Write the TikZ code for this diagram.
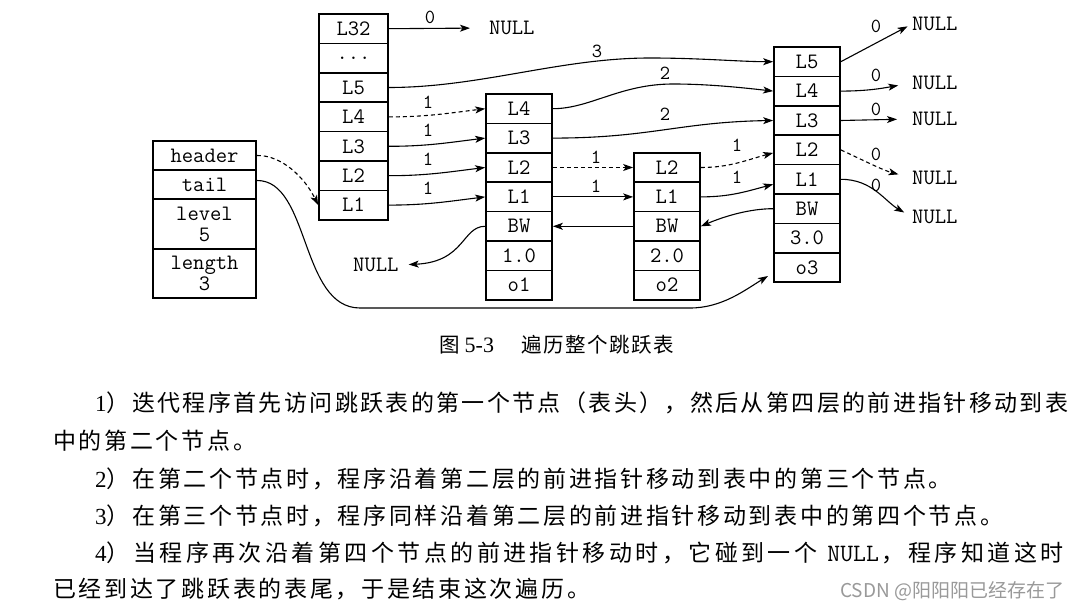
\documentclass[tikz,border=0pt]{standalone}
\usepackage{fontspec}
\setmainfont{Liberation Serif}
\newfontfamily\cjk{Noto Sans CJK SC}[LetterSpace=11.7]
\newfontfamily\cjka{Noto Sans CJK SC}[LetterSpace=10.3]
\newfontfamily\cjkb{Noto Sans CJK SC}[LetterSpace=15]
\newfontfamily\cjkcap{Noto Sans CJK SC}[LetterSpace=8]
\newfontfamily\wmfont{Noto Sans CJK SC}
\usetikzlibrary{arrows.meta}
\newcommand\dfont{\ttfamily\fontsize{22}{21}\selectfont}
\newcommand\tdig{\rmfamily\fontsize{23}{23}\selectfont}
\tikzset{
  cell/.style={draw, line width=1.7pt, inner sep=0pt, minimum height=29.4pt, font=\dfont},
  hcol/.style={cell, minimum width=103pt},
  col0/.style={cell, minimum width=69pt},
  coln/.style={cell, minimum width=66pt},
  conn/.style={line width=1.1pt, -{Stealth[length=10pt,width=7pt,inset=2.5pt]}},
  dsh/.style={dash pattern=on 4pt off 3pt},
  lbl/.style={inner sep=0pt, font=\ttfamily\fontsize{20}{20}\selectfont},
  nul/.style={inner sep=0pt, font=\dfont},
  txt/.style={inner sep=0pt, anchor=base west, font=\cjk\fontsize{23}{23}\selectfont},
}
\begin{document}
\begin{tikzpicture}[x=1pt,y=-1pt]
\path[fill=white] (0,0) rectangle (1083,609);
\useasboundingbox (0,0) rectangle (1083,609);

% header struct
\node[hcol] (hd) at (204.5,155.5) {header};
\node[hcol] (tl) at (204.5,184.5) {tail};
\node[hcol,minimum height=50pt,align=center] (lv) at (204.5,224) {level\\5};
\node[hcol,minimum height=49pt,align=center] (lg) at (204.5,273.5) {length\\3};

% header node
\node[col0] (a32) at (353.5,28.7) {L32};
\node[col0] (adt) at (353.5,58.1) {...};
\node[col0] (a5) at (353.5,87.5) {L5};
\node[col0] (a4) at (353.5,116.9) {L4};
\node[col0] (a3) at (353.5,146.3) {L3};
\node[col0] (a2) at (353.5,175.7) {L2};
\node[col0] (a1) at (353.5,205.1) {L1};

% node 1
\node[coln] (b4) at (519,108.7) {L4};
\node[coln] (b3) at (519,138.1) {L3};
\node[coln] (b2) at (519,167.5) {L2};
\node[coln] (b1) at (519,196.9) {L1};
\node[coln] (bbw) at (519,226.3) {BW};
\node[coln] (bsc) at (519,255.7) {1.0};
\node[coln] (bob) at (519,285.1) {o1};

% node 2
\node[coln] (c2) at (667,167.5) {L2};
\node[coln] (c1) at (667,196.9) {L1};
\node[coln] (cbw) at (667,226.3) {BW};
\node[coln] (csc) at (667,255.7) {2.0};
\node[coln] (cob) at (667,285.1) {o2};

% node 3
\node[coln] (d5) at (807,61.7) {L5};
\node[coln] (d4) at (807,91.1) {L4};
\node[coln] (d3) at (807,120.5) {L3};
\node[coln] (d2) at (807,149.9) {L2};
\node[coln] (d1) at (807,179.3) {L1};
\node[coln] (dbw) at (807,208.7) {BW};
\node[coln] (dsc) at (807,238.1) {3.0};
\node[coln] (dob) at (807,267.5) {o3};

% NULLs
\node[nul,anchor=west] (nu0) at (489,28) {NULL};
\node[nul,anchor=west] (nubw) at (353,265) {NULL};
\node[nul,anchor=west] (nu5) at (912,24) {NULL};
\node[nul,anchor=west] (nu4) at (912,83) {NULL};
\node[nul,anchor=west] (nu3) at (912,119) {NULL};
\node[nul,anchor=west] (nu2) at (912,178) {NULL};
\node[nul,anchor=west] (nu1) at (912,217) {NULL};

\coordinate (tailtip) at (768,276);

% connectors
\draw[conn,shorten >=19pt] (a32.east) -- (nu0.west);
\draw[conn] (a5.east) .. controls (480,87.5) and (560,58) .. (650,58) .. controls (700,58) and (740,61.7) .. (d5.west);
\draw[conn,dsh] (a4.east) to[out=0,in=187] (b4.west);
\draw[conn] (a3.east) to[out=0,in=187] (b3.west);
\draw[conn] (a2.east) to[out=0,in=187] (b2.west);
\draw[conn] (a1.east) to[out=0,in=187] (b1.west);
\draw[conn,dsh] (hd.east) .. controls (282,155) and (305,178) .. (a1.west);
\draw[conn] ([yshift=4pt]tl.east) .. controls (310,180) and (300,308) .. (360,308) -- (690,308) .. controls (722,308) and (745,290) .. (tailtip);
\draw[conn] (b4.east) .. controls (590,108.7) and (620,84) .. (673,84) .. controls (710,84) and (745,88) .. (d4.west);
\draw[conn] (b3.east) .. controls (650,138.1) and (680,122) .. (d3.west);
\draw[conn,dsh] (b2.east) -- (c2.west);
\draw[conn] (b1.east) -- (c1.west);
\draw[conn,shorten >=10pt] (bbw.west) .. controls (462,226.3) and (465,262) .. (nubw.east);
\draw[conn] (cbw.west) -- (bbw.east);
\draw[conn] (dbw.west) .. controls (750,208.7) and (725,216) .. (cbw.east);
\draw[conn,dsh] (c2.east) to[out=0,in=195] ([yshift=-3pt]d2.west);
\draw[conn] (c1.east) to[out=0,in=195] ([yshift=-5pt]d1.west);
\draw[conn,shorten >=5pt] (d5.east) -- (nu5.west);
\draw[conn,shorten >=14pt] (d4.east) to[out=0,in=190] (nu4.west);
\draw[conn,shorten >=15pt] (d3.east) -- (nu3.west);
\draw[conn,dsh,shorten >=14pt] (d2.east) to[out=-25,in=165] (nu2.west);
\draw[conn,shorten >=9pt] (d1.east) to[out=0,in=150] (nu1.west);

% labels
\node[lbl] (k0) at (430,17) {0};
\node[lbl] (k3) at (597,51) {3};
\node[lbl] (ka4) at (428,102) {1};
\node[lbl] (ka3) at (428,130) {1};
\node[lbl] (ka2) at (428,159) {1};
\node[lbl] (ka1) at (428,188) {1};
\node[lbl] (kb4) at (665,73) {2};
\node[lbl] (kb3) at (665,114) {2};
\node[lbl] (kb2) at (596,157) {1};
\node[lbl] (kb1) at (596,186) {1};
\node[lbl] (kc2) at (737,145) {1};
\node[lbl] (kc1) at (737,177) {1};
\node[lbl] (kd5) at (876,26) {0};
\node[lbl] (kd4) at (876,75) {0};
\node[lbl] (kd3) at (876,109) {0};
\node[lbl] (kd2) at (876,154) {0};
\node[lbl] (kd1) at (876,185) {0};

% caption
\node[inner sep=0pt,anchor=base west,font=\cjkcap\fontsize{20.5}{20.5}\selectfont] (cap) at (439,352)
  {图\hspace{5pt}{\rmfamily\fontsize{22}{22}\selectfont 5-3}\hspace{27pt}遍历整个跳跃表};

% body text
\node[txt,font=\cjka\fontsize{23}{23}\selectfont] (t1) at (95,411) {{\tdig 1}）迭代程序首先访问跳跃表的第一个节点（表头），然后从第四层的前进指针移动到表};
\node[txt] (t2) at (53,449) {中的第二个节点。};
\node[txt] (t3) at (95,487) {{\tdig 2}）在第二个节点时，程序沿着第二层的前进指针移动到表中的第三个节点。};
\node[txt] (t4) at (95,524) {{\tdig 3}）在第三个节点时，程序同样沿着第二层的前进指针移动到表中的第四个节点。};
\node[txt,font=\cjkb\fontsize{23}{23}\selectfont] (t5) at (95,561) {{\tdig 4}）当程序再次沿着第四个节点的前进指针移动时，它碰到一个\hspace{10pt}{\ttfamily\fontsize{25}{25}\selectfont NULL}\hspace{3pt}，程序知道这时};
\node[txt] (t6) at (53,597) {已经到达了跳跃表的表尾，于是结束这次遍历。};

% watermark
\node[inner sep=0pt,anchor=base west,text=black!40,font=\wmfont\fontsize{19}{19}\selectfont] (wm) at (840,597) {CSDN @阳阳阳已经存在了};
\end{tikzpicture}
\end{document}
